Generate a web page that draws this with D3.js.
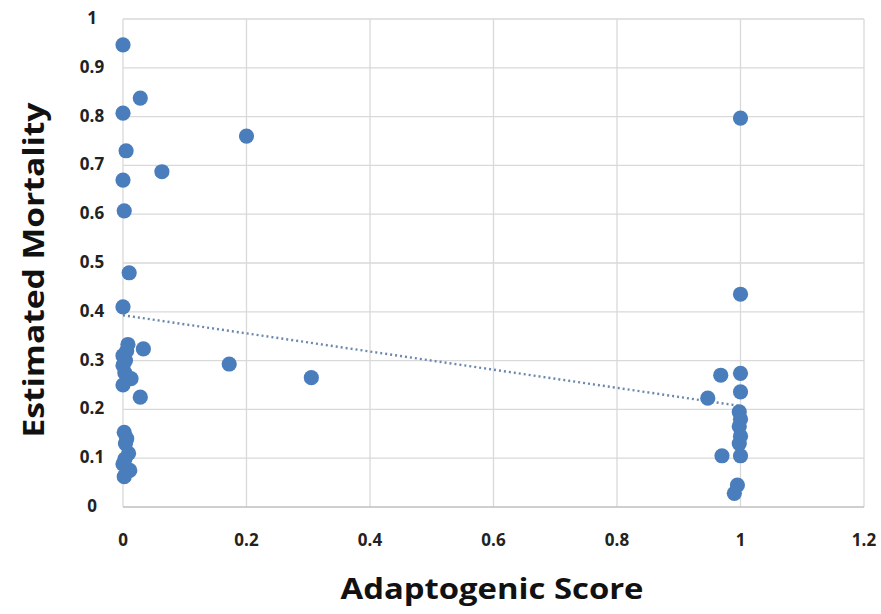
<!DOCTYPE html>
<html><head><meta charset="utf-8">
<script src="https://cdn.jsdelivr.net/npm/d3@7"></script>
<style>body{margin:0;background:#fff}svg{display:block}</style>
</head><body>
<svg id="c" width="881" height="614"></svg>
<script>
const xTicks = [0, 0.2, 0.4, 0.6, 0.8, 1, 1.2];
const xTickLabels = ["0", "0.2", "0.4", "0.6", "0.8", "1", "1.2"];
const yTicks = [0, 0.1, 0.2, 0.3, 0.4, 0.5, 0.6, 0.7, 0.8, 0.9, 1];
const yTickLabels = ["0", "0.1", "0.2", "0.3", "0.4", "0.5", "0.6", "0.7", "0.8", "0.9", "1"];
const scoreX = [0, 0.028, 0, 0.005, 0, 0.063, 0.2, 0.002, 0.01, 0,
  0.008, 0.033, 0, 0, 0.003, 0.013, 0, 0.028, 0.172, 0.305,
  0.002, 0.004, 0.009, 0, 0.011, 0.002, 0.004, 0.006, 0.003, 0.006,
  1, 1, 1, 0.968, 1, 0.947, 0.998, 1, 0.998, 1, 0.998, 0.97, 1, 0.995, 0.99];
const mortalityY = [0.947, 0.838, 0.807, 0.73, 0.67, 0.687, 0.76, 0.607, 0.48, 0.41,
  0.333, 0.324, 0.31, 0.29, 0.275, 0.263, 0.25, 0.225, 0.293, 0.265,
  0.153, 0.13, 0.11, 0.088, 0.075, 0.062, 0.3, 0.32, 0.098, 0.14,
  0.797, 0.436, 0.274, 0.27, 0.236, 0.223, 0.195, 0.18, 0.165, 0.145, 0.13, 0.105, 0.105, 0.045, 0.028];
const trendIntercept = 0.393;
const trendSlope = -0.186;
const trendRange = [0, 1];

const svg = d3.select("#c");
const x = d3.scaleLinear().domain([0, 1.2]).range([123, 864]);
const y = d3.scaleLinear().domain([0, 1]).range([507, 19]);
const font = "'Open Sans', 'Noto Sans', sans-serif";

// gridlines
svg.append("g").selectAll("line").data(yTicks.filter(d => d > 0)).join("line")
  .attr("x1", x(0)).attr("x2", x(1.2)).attr("y1", d => y(d)).attr("y2", d => y(d))
  .attr("stroke", "#d9d9d9").attr("stroke-width", 1.3);
svg.append("g").selectAll("line").data(xTicks).join("line")
  .attr("y1", y(0)).attr("y2", y(1)).attr("x1", d => x(d)).attr("x2", d => x(d))
  .attr("stroke", "#d9d9d9").attr("stroke-width", 1.3);
// bottom axis line
svg.append("line").attr("x1", x(0)).attr("x2", x(1.2)).attr("y1", y(0)).attr("y2", y(0))
  .attr("stroke", "#bfbfbf").attr("stroke-width", 1.5);

// tick labels
svg.append("g").selectAll("text").data(xTicks).join("text")
  .attr("x", d => x(d)).attr("y", 546)
  .attr("text-anchor", "middle").attr("font-family", font).attr("font-weight", "bold")
  .attr("font-size", 17).attr("fill", "#222")
  .text((d, i) => xTickLabels[i]);
svg.append("g").selectAll("text").data(yTicks).join("text")
  .attr("x", 92).attr("y", d => y(d) + 5)
  .attr("text-anchor", "middle").attr("font-family", font).attr("font-weight", "bold")
  .attr("font-size", 17).attr("fill", "#222")
  .text((d, i) => yTickLabels[i]);

// trendline
const lineGen = d3.line().x(d => x(d)).y(d => y(trendIntercept + trendSlope * d));
svg.append("path").attr("d", lineGen(trendRange))
  .attr("fill", "none").attr("stroke", "#6a88ad").attr("stroke-width", 2.4)
  .attr("stroke-dasharray", "2,3");

// points
svg.append("g").selectAll("circle").data(scoreX.map((v, i) => [v, mortalityY[i]])).join("circle")
  .attr("cx", d => x(d[0])).attr("cy", d => y(d[1])).attr("r", 7.6)
  .attr("fill", "#4a7dbb");

// axis titles
svg.append("text").attr("x", 492).attr("y", 599).attr("text-anchor", "middle")
  .attr("font-family", font).attr("font-weight", "bold").attr("font-size", 29).attr("fill", "#111")
  .attr("textLength", 303).attr("lengthAdjust", "spacingAndGlyphs")
  .text("Adaptogenic Score");
svg.append("text").attr("transform", "translate(44,270) rotate(-90)").attr("text-anchor", "middle")
  .attr("font-family", font).attr("font-weight", "bold").attr("font-size", 29).attr("fill", "#111")
  .attr("textLength", 335).attr("lengthAdjust", "spacingAndGlyphs")
  .text("Estimated Mortality");
</script>
</body></html>
